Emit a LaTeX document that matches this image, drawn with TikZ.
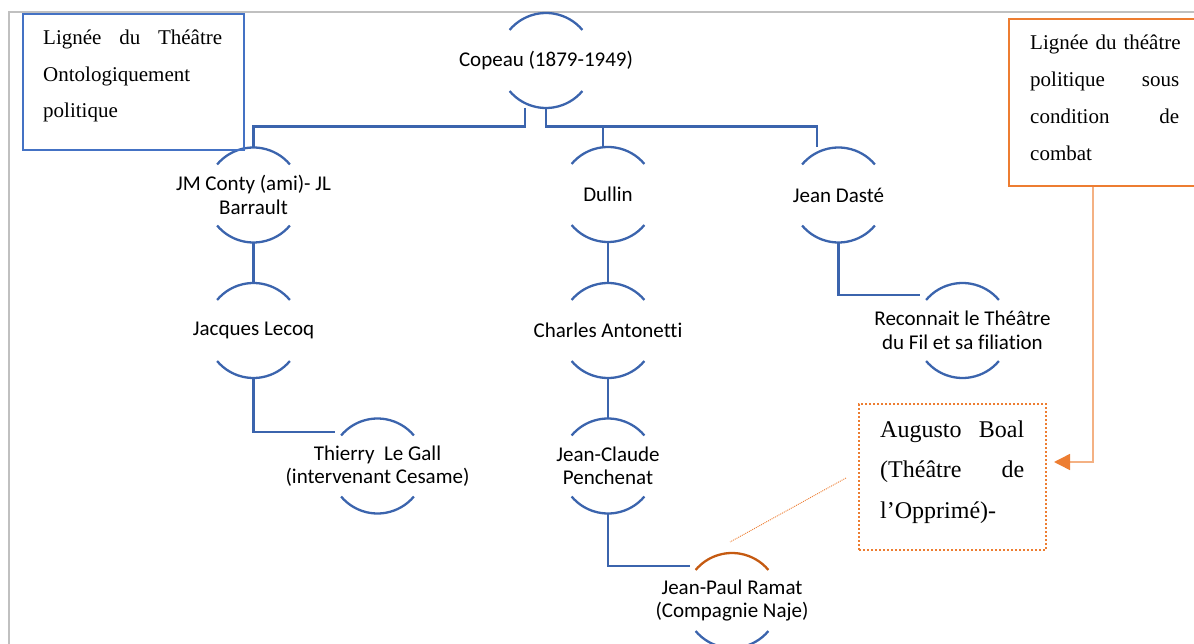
\documentclass[tikz,border=0pt]{standalone}
\usepackage{fontspec}
\setmainfont{Liberation Serif}
\newfontfamily\calfont{Carlito}[Ligatures=NoCommon]
\usetikzlibrary{arrows.meta}
\definecolor{arcB}{HTML}{3B64AD}
\definecolor{boxB}{HTML}{4472C4}
\definecolor{boxO}{HTML}{ED7D31}
\definecolor{lineO}{HTML}{F4B183}
\definecolor{arcO}{HTML}{C55A11}
\definecolor{frameG}{HTML}{C0C0C0}
\tikzset{
  nodetext/.style={font=\calfont\fontsize{21}{23.5}\selectfont, align=center, inner sep=0pt},
  bk/.style={circle, minimum size=95pt, inner sep=0pt, outer sep=0pt, label={[nodetext]center:{#1}}},
  conn/.style={draw=arcB, line width=2.3pt},
  arcline/.style={draw=arcB, line width=2.3pt},
  arclineO/.style={draw=arcO, line width=2.3pt},
  boxblue/.style={draw=boxB, line width=2.5pt, rectangle, inner sep=0pt},
  boxorange/.style={draw=boxO, line width=2.5pt, rectangle, inner sep=0pt},
  boxdot/.style={draw=boxO, line width=2pt, dash pattern=on 2pt off 2pt, rectangle, inner sep=0pt},
  boxtext/.style={inner sep=0pt, anchor=base west, align=left},
  arrowO/.style={draw=lineO, line width=1.5pt, -{Triangle[length=16pt,width=16pt,color=boxO]}},
  dotO/.style={draw=boxO, line width=0.9pt, dash pattern=on 1pt off 1pt},
}
\newcommand\arcsof[2][arcline]{%
  \draw[#1] (#2.140) arc[start angle=140,end angle=40,radius=47.5pt];
  \draw[arcline] (#2.-140) arc[start angle=-140,end angle=-40,radius=47.5pt];}
\begin{document}
\begin{tikzpicture}[x=1pt,y=1pt]
\useasboundingbox (0,0) rectangle (1194,-644);
% page frame
\draw[frameG, line width=1.8pt] (9,-650) -- (9,-12) -- (1200,-12);

% tree nodes
\node[bk={Copeau (1879-1949)}] (copeau) at (546,-60.5) {};
\node[bk={JM Conty (ami)- JL\\Barrault}] (conty) at (253.5,-195) {};
\node[bk={Dullin}] (dullin) at (608,-194.5) {};
\node[bk={Jean Dasté}] (daste) at (838.5,-195) {};
\node[bk={Jacques Lecoq}] (lecoq) at (253.5,-330.5) {};
\node[bk={Charles Antonetti}] (antonetti) at (608,-330.5) {};
\node[bk={Reconnait le Théâtre\\du Fil et sa filiation}] (reconnait) at (962.5,-330.5) {};
\node[bk={Thierry~ Le Gall\\(intervenant Cesame)}] (thierry) at (377.5,-466) {};
\node[bk={Jean-Claude\\Penchenat}] (penchenat) at (608,-466) {};
\node[bk={Jean-Paul Ramat\\(Compagnie Naje)}] (ramat) at (732,-600.5) {};

\arcsof{copeau}
\arcsof{conty}
\arcsof{dullin}
\arcsof{daste}
\arcsof{lecoq}
\arcsof{antonetti}
\arcsof{reconnait}
\arcsof{thierry}
\arcsof{penchenat}
\arcsof[arclineO]{ramat}

% connectors
\draw[conn] ([xshift=-21pt]copeau.south) -- ++(0,-18.5) -| (conty.north);
\draw[conn] (copeau.south) -- ++(0,-18.5) -| ([xshift=-21.5pt]daste.north);
\draw[conn] (copeau.south) -- ++(0,-18.5) -| ([xshift=-5pt]dullin.north);
\draw[conn] (conty.south) -- (lecoq.north);
\draw[conn] (lecoq.south) |- ([shift={(-42.5pt,34pt)}]thierry.center);
\draw[conn] (dullin.south) -- (antonetti.north);
\draw[conn] (antonetti.south) -- (penchenat.north);
\draw[conn] (penchenat.south) |- ([shift={(-42pt,34.5pt)}]ramat.center);
\draw[conn] (daste.south) |- ([shift={(-42.5pt,35.5pt)}]reconnait.center);

% boxes
\node[boxblue, minimum width=221pt, minimum height=136pt] (lbox) at (133.5,-82) {};
\node[boxtext, text width=179pt, font=\fontsize{21}{36.5}\selectfont] (ltext) at (43,-45)
  {Lignée\hfill du\hfill Théâtre\\Ontologiquement\\politique};
\node[boxorange, minimum width=200pt, minimum height=167pt] (rbox) at (1109,-102.5) {};
\node[boxtext, text width=149pt, font=\fontsize{21}{37}\selectfont] (rtext) at (1030,-50)
  {\mbox{Lignée du théâtre}\\politique\hfill sous\\condition\hfill de\\combat};
\node[boxdot, minimum width=187pt, minimum height=146pt] (boal) at (952.5,-477) {};
\node[boxtext, text width=144pt, font=\fontsize{24}{40.5}\selectfont] (btext) at (880,-437)
  {Augusto\hfill Boal\\(Théâtre\hfill de\\l’Opprimé)-};

% orange links
\draw[arrowO] ([xshift=85pt]rbox.south west) |- ([shift={(7pt,15pt)}]boal.east);
\draw[dotO] ([shift={(-12pt,-1pt)}]boal.west) -- ([shift={(-2pt,11pt)}]ramat.north);
\end{tikzpicture}
\end{document}
